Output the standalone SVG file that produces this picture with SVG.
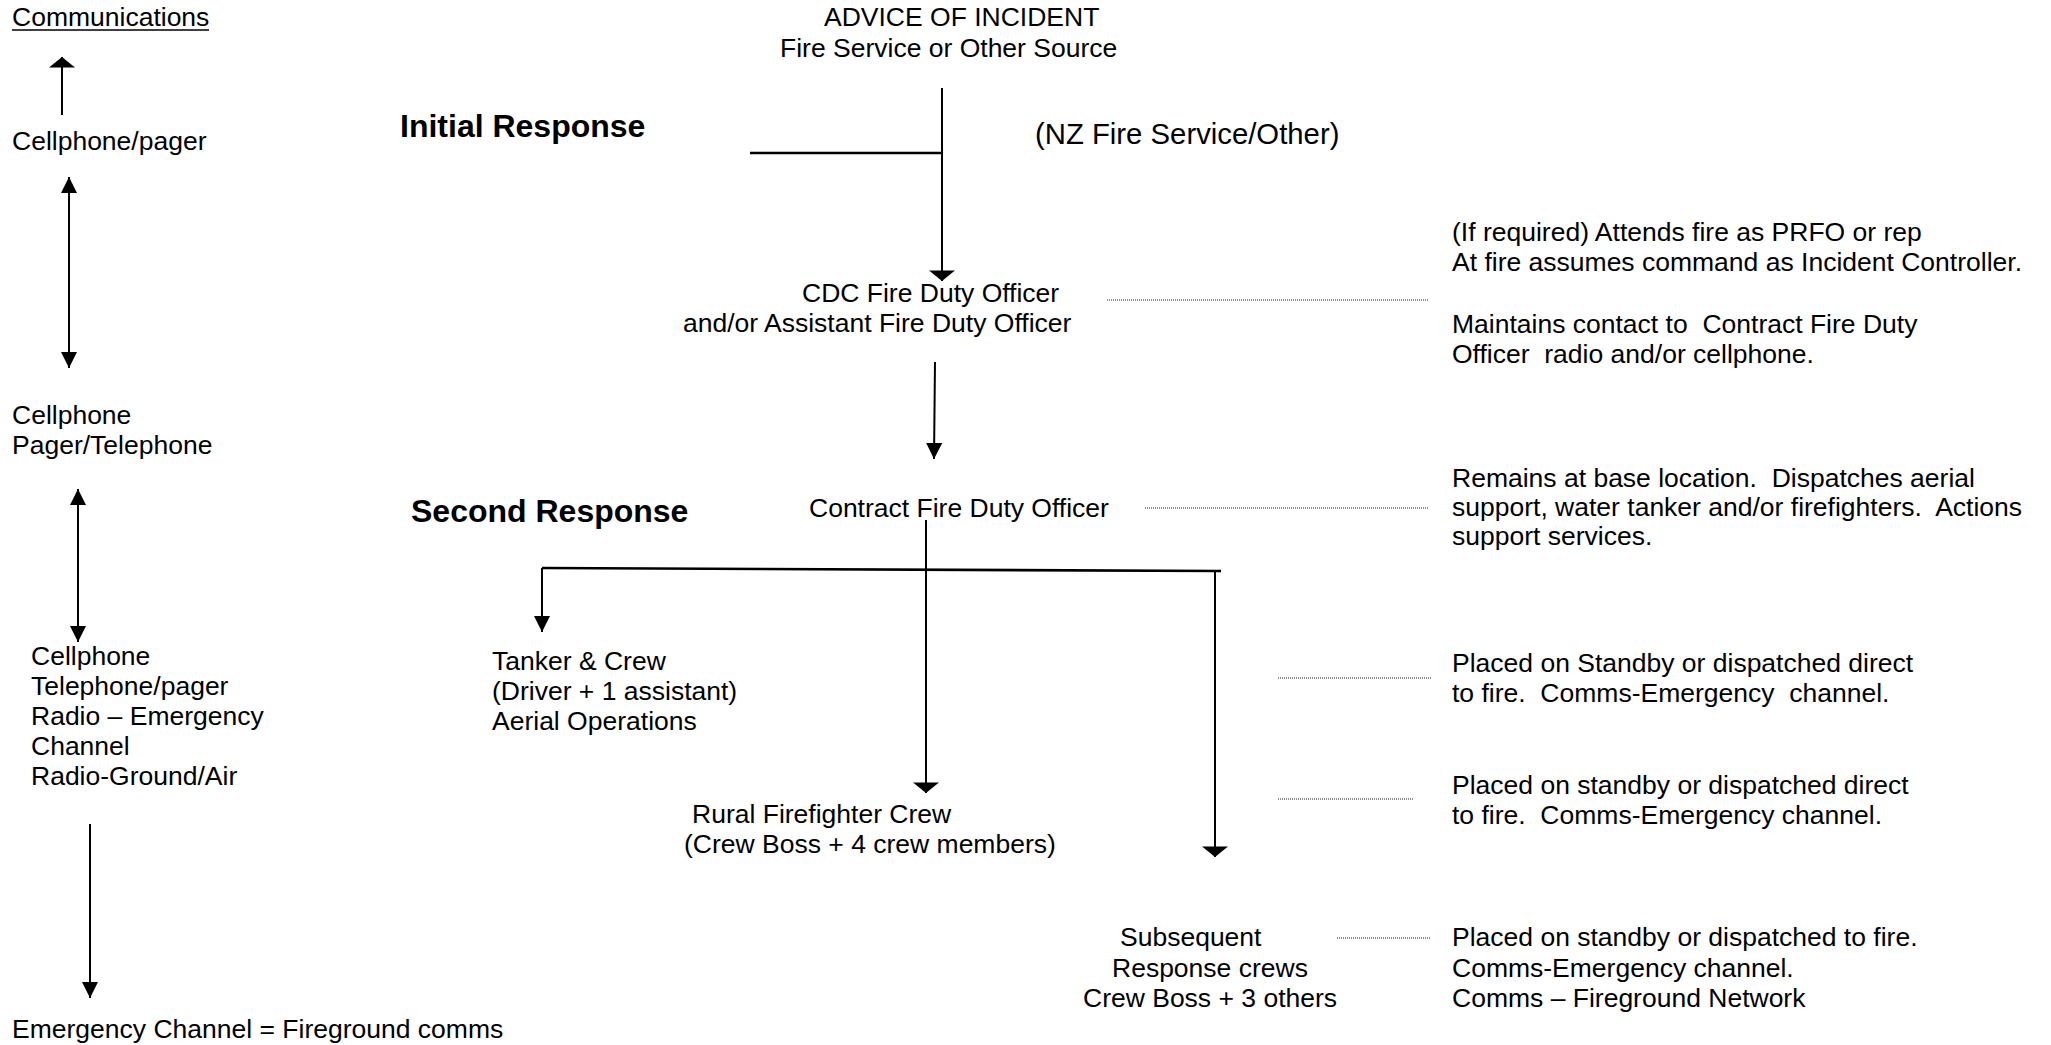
<svg xmlns="http://www.w3.org/2000/svg" width="2051" height="1045" viewBox="0 0 2051 1045" xml:space="preserve">
  <style>
    text { font-family: "Liberation Sans", Arial, sans-serif; font-size: 26.5px; fill: #000; white-space: pre; }
    .head { font-weight: bold; font-size: 32px; }
    .big { font-size: 29.3px; }
    .ln { stroke: #000; stroke-width: 2; fill: none; }
    .thick { stroke-width: 2.6; }
    .dot { stroke: #222; stroke-width: 1; stroke-dasharray: 1 1; fill: none; }
  </style>
  <defs>
    <!-- wide, flat arrowhead -->
    <marker id="flat" markerUnits="userSpaceOnUse" markerWidth="11" markerHeight="26" viewBox="0 0 10 25" refX="10" refY="12.5" orient="auto-start-reverse">
      <path d="M0,0 L10,12.5 L0,25 z" fill="#000"/>
    </marker>
    <!-- narrow, pointed arrowhead -->
    <marker id="sharp" markerUnits="userSpaceOnUse" markerWidth="16" markerHeight="16" viewBox="0 0 15 15" refX="15" refY="7.5" orient="auto-start-reverse">
      <path d="M0,0 L15,7.5 L0,15 z" fill="#000"/>
    </marker>
  </defs>

  <!-- Communications column -->
  <g id="comms-title">
    <text x="12" y="26">Communications</text>
    <line x1="12" y1="30" x2="209" y2="30" stroke="#000" stroke-width="1.5"/>
  </g>
  <g id="comms-cellphone-pager">
    <text x="12" y="150">Cellphone/pager</text>
  </g>
  <g id="comms-cellphone-telephone">
    <text x="12" y="424">Cellphone</text>
    <text x="12" y="454">Pager/Telephone</text>
  </g>
  <g id="comms-radio">
    <text x="31" y="665">Cellphone</text>
    <text x="31" y="695">Telephone/pager</text>
    <text x="31" y="725">Radio – Emergency</text>
    <text x="31" y="755">Channel</text>
    <text x="31" y="785">Radio-Ground/Air</text>
  </g>
  <g id="comms-fireground">
    <text x="12" y="1038">Emergency Channel = Fireground comms</text>
  </g>

  <!-- Section headings -->
  <g id="initial-response">
    <text class="head" x="400" y="137">Initial Response</text>
  </g>
  <g id="second-response">
    <text class="head" x="411" y="522">Second Response</text>
  </g>

  <!-- Chain of command -->
  <g id="advice">
    <text x="824" y="26">ADVICE OF INCIDENT</text>
    <text x="780" y="57">Fire Service or Other Source</text>
  </g>
  <g id="nz-fire-service">
    <text class="big" x="1035" y="144">(NZ Fire Service/Other)</text>
  </g>
  <g id="cdc-officer">
    <text x="802" y="302">CDC Fire Duty Officer</text>
    <text x="683" y="332">and/or Assistant Fire Duty Officer</text>
  </g>
  <g id="contract-officer">
    <text x="809" y="517">Contract Fire Duty Officer</text>
  </g>
  <g id="tanker">
    <text x="492" y="670">Tanker &amp; Crew</text>
    <text x="492" y="700">(Driver + 1 assistant)</text>
    <text x="492" y="730">Aerial Operations</text>
  </g>
  <g id="rural-crew">
    <text x="692" y="823">Rural Firefighter Crew</text>
    <text x="684" y="853">(Crew Boss + 4 crew members)</text>
  </g>
  <g id="subsequent">
    <text x="1120" y="946">Subsequent</text>
    <text x="1112" y="977">Response crews</text>
    <text x="1083" y="1007">Crew Boss + 3 others</text>
  </g>

  <!-- Role notes -->
  <g id="note-cdc">
    <text x="1452" y="241">(If required) Attends fire as PRFO or rep</text>
    <text x="1452" y="271">At fire assumes command as Incident Controller.</text>
    <text x="1452" y="333">Maintains contact to  Contract Fire Duty</text>
    <text x="1452" y="363">Officer  radio and/or cellphone.</text>
  </g>
  <g id="note-contract">
    <text x="1452" y="487">Remains at base location.  Dispatches aerial</text>
    <text x="1452" y="516">support, water tanker and/or firefighters.  Actions</text>
    <text x="1452" y="545">support services.</text>
  </g>
  <g id="note-tanker">
    <text x="1452" y="672">Placed on Standby or dispatched direct</text>
    <text x="1452" y="702">to fire.  Comms-Emergency  channel.</text>
  </g>
  <g id="note-rural">
    <text x="1452" y="794">Placed on standby or dispatched direct</text>
    <text x="1452" y="824">to fire.  Comms-Emergency channel.</text>
  </g>
  <g id="note-subsequent">
    <text x="1452" y="946">Placed on standby or dispatched to fire.</text>
    <text x="1452" y="977">Comms-Emergency channel.</text>
    <text x="1452" y="1007">Comms – Fireground Network</text>
  </g>

  <g id="connectors">
    <!-- communications links -->
    <line class="ln" x1="62" y1="115" x2="62" y2="57" marker-end="url(#flat)"/>
    <line class="ln" x1="69" y1="177" x2="69" y2="368" marker-start="url(#sharp)" marker-end="url(#sharp)"/>
    <line class="ln" x1="78" y1="489" x2="78" y2="642" marker-start="url(#sharp)" marker-end="url(#sharp)"/>
    <line class="ln" x1="90" y1="824" x2="90" y2="998" marker-end="url(#sharp)"/>

    <!-- advice to CDC officer -->
    <line class="ln" x1="942" y1="88" x2="942" y2="281" marker-end="url(#flat)"/>
    <line class="ln thick" x1="750" y1="153" x2="941" y2="153"/>
    <!-- CDC to contract officer -->
    <line class="ln" x1="935" y1="362" x2="934" y2="459" marker-end="url(#sharp)"/>
    <!-- contract officer branches -->
    <line class="ln" x1="926" y1="520" x2="926" y2="793" marker-end="url(#flat)"/>
    <line class="ln thick" x1="542" y1="568" x2="1221" y2="571"/>
    <line class="ln" x1="542" y1="568" x2="542" y2="632" marker-end="url(#sharp)"/>
    <line class="ln" x1="1215" y1="571" x2="1215" y2="857" marker-end="url(#flat)"/>

    <!-- dotted leaders to notes -->
    <line class="dot" x1="1107" y1="300" x2="1429" y2="300"/>
    <line class="dot" x1="1145" y1="508" x2="1429" y2="508"/>
    <line class="dot" x1="1278" y1="678" x2="1431" y2="678"/>
    <line class="dot" x1="1278" y1="799" x2="1413" y2="799"/>
    <line class="dot" x1="1337" y1="938" x2="1431" y2="938"/>
  </g>
</svg>
